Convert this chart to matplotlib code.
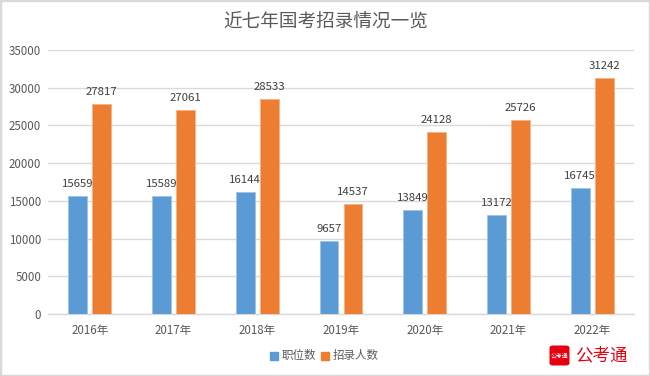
import matplotlib
matplotlib.use("Agg")
import matplotlib.pyplot as plt
from matplotlib.patches import FancyBboxPatch, Rectangle
import numpy as np

plt.rcParams["font.family"] = ["Noto Sans CJK SC", "DejaVu Sans"]

YEARS = ["2016年", "2017年", "2018年", "2019年", "2020年", "2021年", "2022年"]
POSITIONS = [15659, 15589, 16144, 9657, 13849, 13172, 16745]
RECRUITS = [27817, 27061, 28533, 14537, 24128, 25726, 31242]
Y_TICKS = [0, 5000, 10000, 15000, 20000, 25000, 30000, 35000]

W, H = 650, 376
BLUE = "#5B9BD5"
ORANGE = "#ED7D31"
TEXT = "#595959"
LABEL = "#404040"

fig = plt.figure(figsize=(W / 100, H / 100), dpi=100)
ax = fig.add_axes([48 / W, 1 - 314 / H, 586 / W, 264 / H])

x = np.arange(len(YEARS))
bar_w = 0.225
offset = 0.143
ax.bar(x - offset, POSITIONS, bar_w, color=BLUE, edgecolor="#9DC3E6", linewidth=0.6, zorder=3)
ax.bar(x + offset, RECRUITS, bar_w, color=ORANGE, edgecolor="#F4B183", linewidth=0.6, zorder=3)

for i, v in enumerate(POSITIONS):
    ax.annotate(str(v), (i - offset, v), xytext=(0, 5), textcoords="offset points",
                ha="center", va="bottom", fontsize=8.2, color=LABEL, zorder=4)
for i, v in enumerate(RECRUITS):
    ax.annotate(str(v), (i + offset, v), xytext=(0, 5), textcoords="offset points",
                ha="center", va="bottom", fontsize=8.2, color=LABEL, zorder=4)

ax.set_xlim(-0.5, len(YEARS) - 0.5)
ax.set_ylim(0, 35000)
ax.set_yticks(Y_TICKS)
ax.set_xticks(x, YEARS)
ax.tick_params(axis="both", length=0, labelsize=8.3, labelcolor=TEXT)
ax.tick_params(axis="x", pad=7)
ax.tick_params(axis="y", pad=5)
ax.grid(axis="y", color="#D9D9D9", linewidth=1, zorder=0)
ax.set_axisbelow(True)
for name in ["top", "right", "left"]:
    ax.spines[name].set_visible(False)
ax.spines["bottom"].set_color("#D9D9D9")
ax.spines["bottom"].set_linewidth(1)

fig.text(325.5 / W, 1 - 22 / H, "近七年国考招录情况一览", ha="center", va="center",
         fontsize=13.4, color=TEXT)

# legend
fig.patches.append(Rectangle((270 / W, 1 - 360 / H), 8 / W, 8 / H, transform=fig.transFigure, color=BLUE))
fig.text(282 / W, 1 - 356 / H, "职位数", ha="left", va="center", fontsize=8.3, color=TEXT)
fig.patches.append(Rectangle((321 / W, 1 - 360 / H), 8 / W, 8 / H, transform=fig.transFigure, color=ORANGE))
fig.text(333 / W, 1 - 356 / H, "招录人数", ha="left", va="center", fontsize=8.3, color=TEXT)

# logo
fig.patches.append(FancyBboxPatch((549.5 / W, 1 - 365.5 / H), 20 / W, 20 / H,
                                  boxstyle="round,pad=0,rounding_size=0.006",
                                  transform=fig.transFigure, facecolor="#E60012", edgecolor="none"))
fig.text(559.5 / W, 1 - 355.5 / H, "公考通", ha="center", va="center", fontsize=4.2, color="white")
fig.text(575 / W, 1 - 355.5 / H, "公考通", ha="left", va="center", fontsize=12.6, color="#E60012")

# outer frame of the screenshot
fig.patches.append(Rectangle((0, 0), 1, 1, transform=fig.transFigure, fill=False,
                             edgecolor="#D9D9D9", linewidth=2.5))

fig.savefig("out.png", dpi=100)
